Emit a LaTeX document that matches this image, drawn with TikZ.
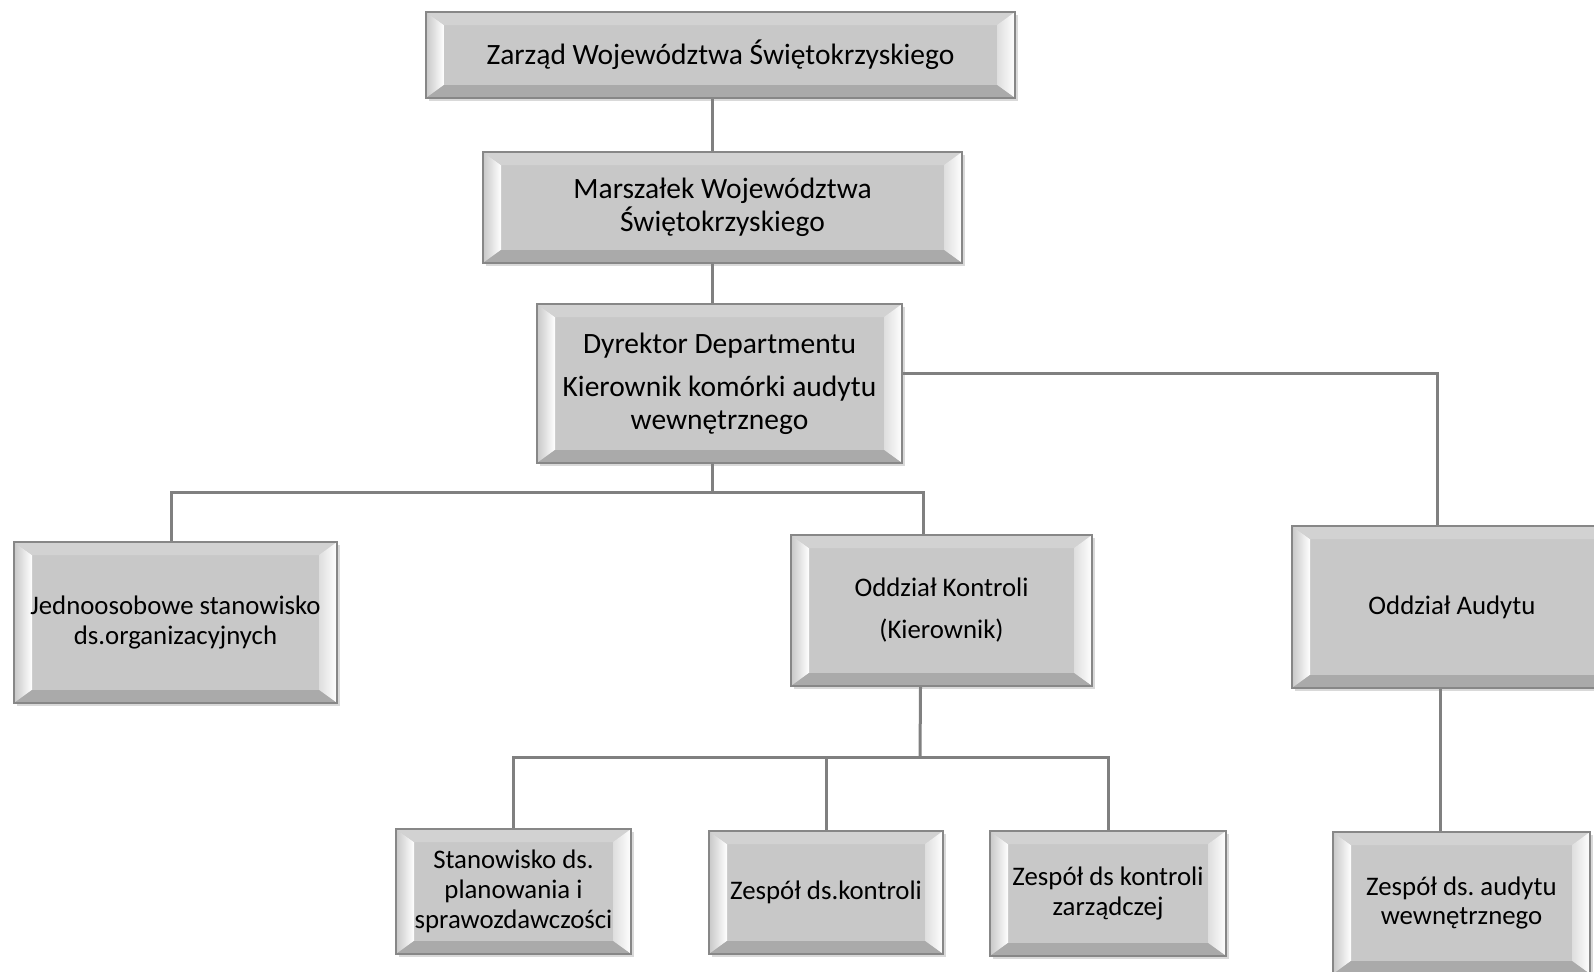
\documentclass[tikz,border=0pt]{standalone}
\usepackage{fontspec}
\setmainfont{Carlito}
\usetikzlibrary{calc,shadows,backgrounds}
\frenchspacing
\definecolor{boxface}{RGB}{200,200,200}
\definecolor{boxedge}{RGB}{135,135,135}
\definecolor{bevtop}{RGB}{210,210,210}
\definecolor{bevbot}{RGB}{170,170,170}
\definecolor{bevright}{RGB}{222,222,222}
\definecolor{linkgray}{RGB}{128,128,128}
\tikzset{
  bevel/.style={draw=boxedge, fill=boxface, line width=0.8pt,
    align=center, inner sep=0pt,
    drop shadow={shadow xshift=1.5pt, shadow yshift=-1.5pt, opacity=0.3},
    path picture={
      \path (path picture bounding box.south west) coordinate (bsw)
            (path picture bounding box.north east) coordinate (bne);
      \shade[left color=boxface, right color=white]
        (bsw) -- ($(bsw)+(9pt,6.5pt)$) -- ($(bsw|-bne)+(9pt,-6.5pt)$) -- (bsw|-bne) -- cycle;
      \fill[bevtop]
        (bsw|-bne) -- ($(bsw|-bne)+(9pt,-6.5pt)$) -- ($(bne)+(-9pt,-6.5pt)$) -- (bne) -- cycle;
      \shade[left color=bevright, right color=white]
        (bne) -- ($(bne)+(-9pt,-6.5pt)$) -- ($(bne|-bsw)+(-9pt,6.5pt)$) -- (bne|-bsw) -- cycle;
      \fill[bevbot]
        (bne|-bsw) -- ($(bne|-bsw)+(-9pt,6.5pt)$) -- ($(bsw)+(9pt,6.5pt)$) -- (bsw) -- cycle;
    }},
  big/.style={font=\fontsize{14.75}{16.5}\selectfont},
  mid/.style={font=\fontsize{13.4}{15}\selectfont},
  small/.style={font=\fontsize{13.4}{14.9}\selectfont},
  link/.style={draw=linkgray, line width=1.5pt}
}
% box from its corners, in pixels of the layout
\newcommand*{\orgunit}[7]
  {\node[bevel, #2, minimum width={(#5-#3)*0.5pt}, minimum height={(#6-#4)*0.5pt}]
     (#1) at ({(#3+#5)/2},{(#4+#6)/2}) {#7}}

\begin{document}
\begin{tikzpicture}[x=0.5pt,y=-0.5pt]
\useasboundingbox (0,0) rectangle (1594,971);
\orgunit{zarzad}{big}{426}{12}{1015}{98}{Zarząd Województwa Świętokrzyskiego};
\orgunit{marszalek}{big}{483}{152}{962}{263}{Marszałek Województwa\\Świętokrzyskiego};
\orgunit{dyrektor}{big}{537}{304}{902}{463}{Dyrektor Departmentu\\[5pt]Kierownik komórki audytu\\wewnętrznego};
\orgunit{jedno}{mid}{14}{542}{337}{703}{Jednoosobowe stanowisko\\ds.organizacyjnych};
\orgunit{kontrola}{mid}{791}{535}{1092}{686}{Oddział Kontroli\\[6pt](Kierownik)};
\orgunit{audyt}{mid}{1292}{526}{1612}{688}{Oddział Audytu};
\orgunit{planowanie}{small}{396}{829}{631}{954}{Stanowisko ds.\\planowania i\\sprawozdawczości};
\orgunit{kontrole}{small}{709}{831}{943}{954}{Zespół ds.kontroli};
\orgunit{zarzadcza}{small}{990}{831}{1226}{956}{Zespół ds kontroli\\zarządczej};
\orgunit{zespolaudyt}{small}{1333}{832}{1590}{974}{Zespół ds. audytu\\wewnętrznego};

\coordinate (spine) at (712,0);
\coordinate (bus1) at (712,492);
\coordinate (bus2) at (920,757);
\begin{scope}[on background layer]
\draw[link] (zarzad.south -| spine) -- (marszalek.north -| spine);
\draw[link] (marszalek.south -| spine) -- (dyrektor.north -| spine);
\draw[link] (dyrektor.south -| spine) -- (bus1);
\draw[link] ([xshift=-2pt]jedno.north) |- (bus1) -| ([xshift=-9pt]kontrola.north);
\draw[link] ([yshift=5pt]dyrektor.east) -| ([xshift=-7.5pt]audyt.north);
\draw[link] ([xshift=-10.5pt]kontrola.south) -- (bus2);
\draw[link] (planowanie.north) |- (zarzadcza.north |- bus2) -- (zarzadcza.north);
\draw[link] (kontrole.north) -- (kontrole.north |- bus2);
\draw[link] ([xshift=-6pt]audyt.south) -- ([xshift=-10.75pt]zespolaudyt.north);
\end{scope}
\end{tikzpicture}
\end{document}
